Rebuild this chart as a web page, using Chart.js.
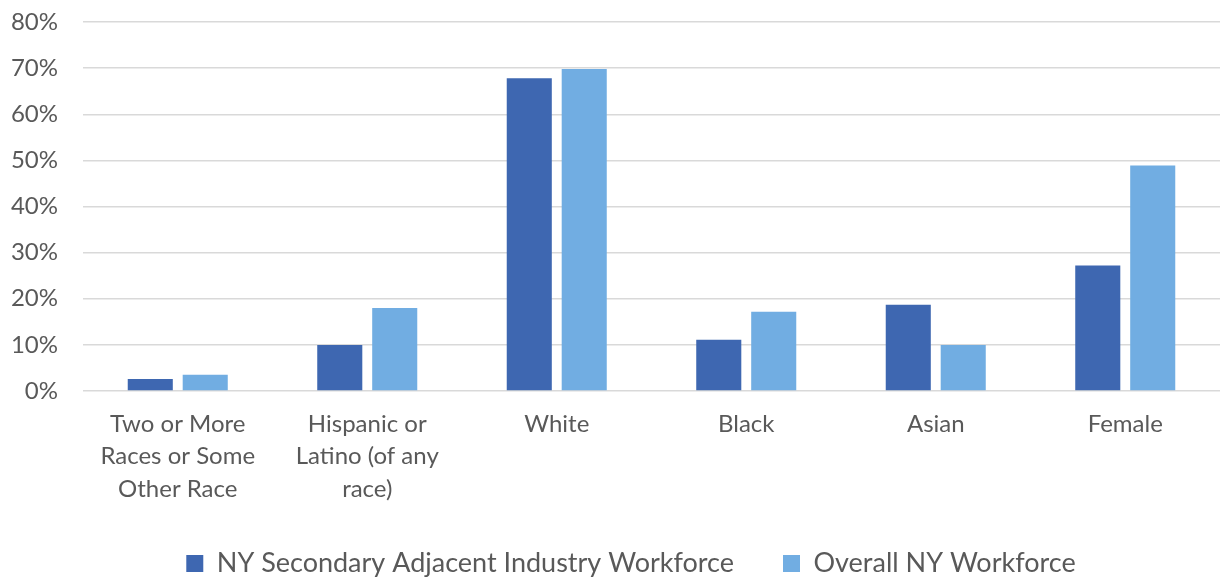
<!DOCTYPE html>
<html>
<head>
<meta charset="utf-8">
<script src="https://cdn.jsdelivr.net/npm/chart.js@4/dist/chart.umd.min.js"></script>
<style>
  html, body { margin: 0; padding: 0; background: #ffffff; }
  #wrap { width: 1220px; height: 583px; position: relative; }
</style>
</head>
<body>
<div id="wrap"><canvas id="c" width="1220" height="583"></canvas></div>
<script>
const categories = [
  ['Two or More', 'Races or Some', 'Other Race'],
  ['Hispanic or', 'Latino (of any', 'race)'],
  'White',
  'Black',
  'Asian',
  'Female'
];
const seriesNames = ['NY Secondary Adjacent Industry Workforce', 'Overall NY Workforce'];
const secondaryAdjacent = [2.6, 10.0, 67.8, 11.1, 18.7, 27.2];
const overallNY = [3.5, 18.0, 69.8, 17.2, 10.0, 48.9];
const yTicks = [0, 10, 20, 30, 40, 50, 60, 70, 80];

const FONT = "Lato, 'Open Sans', sans-serif";
const TEXT = '#595959';

const legendShift = {
  id: 'legendShift',
  afterLayout(chart) {
    const lg = chart.legend;
    if (lg) { lg.left += 21; lg.right += 21; }
  }
};

new Chart(document.getElementById('c'), {
  type: 'bar',
  data: {
    labels: categories,
    datasets: [
      { label: seriesNames[0], data: secondaryAdjacent, backgroundColor: '#3E67B1', borderWidth: 0 },
      { label: seriesNames[1], data: overallNY, backgroundColor: '#71ADE2', borderWidth: 0 }
    ]
  },
  plugins: [legendShift],
  options: {
    responsive: false,
    animation: false,
    devicePixelRatio: 1,
    layout: { padding: { top: 22, right: 0, left: 0, bottom: -4 } },
    datasets: { bar: { categoryPercentage: 0.58, barPercentage: 0.82 } },
    plugins: {
      tooltip: { enabled: false },
      legend: {
        position: 'bottom',
        labels: {
          font: { family: FONT, size: 27 },
          color: TEXT,
          boxWidth: 17,
          boxHeight: 17,
          padding: 49
        }
      }
    },
    scales: {
      x: {
        grid: { display: false },
        border: { display: false },
        ticks: {
          font: { family: FONT, size: 24, lineHeight: 1.35 },
          color: TEXT,
          padding: 9,
          maxRotation: 0,
          autoSkip: false
        },
        afterFit(scale) { scale.height = 110; }
      },
      y: {
        min: 0,
        max: 80,
        afterBuildTicks(scale) { scale.ticks = yTicks.map(v => ({ value: v })); },
        grid: { color: '#D9D9D9', lineWidth: 1.5, drawTicks: true, tickLength: 25, tickColor: 'rgba(0,0,0,0)' },
        border: { display: false },
        ticks: {
          font: { family: FONT, size: 24 },
          color: TEXT,
          padding: 0,
          callback: v => v + '%'
        },
        afterFit(scale) { scale.width = 83; }
      }
    }
  }
});
</script>
</body>
</html>
